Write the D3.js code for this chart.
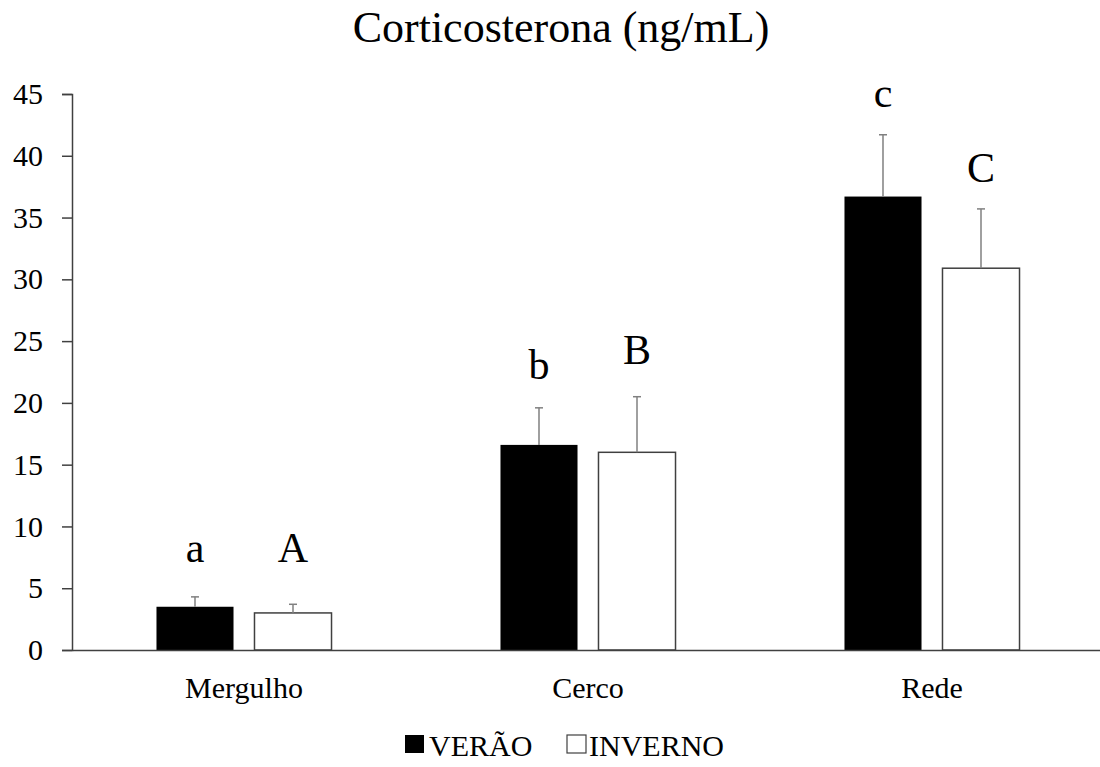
<!DOCTYPE html>
<html>
<head>
<meta charset="utf-8">
<script src="https://cdn.jsdelivr.net/npm/d3@7"></script>
<style>
  body { margin: 0; background: #fff; }
</style>
</head>
<body>
<div id="chart"></div>
<script>
const categories = ['Mergulho', 'Cerco', 'Rede'];
const series = ['VERÃO', 'INVERNO'];
const veraoValues = [3.5, 16.6, 36.7];
const veraoErrors = [0.8, 3.0, 5.0];
const invernoValues = [3.0, 16.0, 30.9];
const invernoErrors = [0.7, 4.5, 4.8];
const veraoLetters = ['a', 'b', 'c'];
const invernoLetters = ['A', 'B', 'C'];
// letter heights in data units (placed by hand in the original)
const veraoLetterY = [7.1, 21.9, 43.95];
const invernoLetterY = [7.1, 23.15, 37.9];
const yTicks = [0, 5, 10, 15, 20, 25, 30, 35, 40, 45];

const width = 1100, height = 767;
const margin = { top: 94, right: -4, bottom: 117, left: 72 };
const serif = "'Liberation Serif', 'Times New Roman', Times, serif";

const rows = [];
categories.forEach((c, i) => {
  rows.push({ cat: c, s: series[0], value: veraoValues[i], err: veraoErrors[i], letter: veraoLetters[i], ly: veraoLetterY[i] });
  rows.push({ cat: c, s: series[1], value: invernoValues[i], err: invernoErrors[i], letter: invernoLetters[i], ly: invernoLetterY[i] });
});

const svg = d3.select('#chart').append('svg')
  .attr('width', width)
  .attr('height', height)
  .attr('font-family', serif);

const x0 = d3.scaleBand()
  .domain(categories)
  .range([margin.left, width - margin.right]);

const x1 = d3.scaleBand()
  .domain(series)
  .range([0, x0.bandwidth()])
  .paddingInner(0.214)
  .paddingOuter(0.862);

const y = d3.scaleLinear()
  .domain([0, 45])
  .range([height - margin.bottom, margin.top]);

const color = { 'VERÃO': '#000', 'INVERNO': '#fff' };

// title
svg.append('text')
  .attr('x', 561)
  .attr('y', 42)
  .attr('text-anchor', 'middle')
  .attr('font-size', 44)
  .text('Corticosterona (ng/mL)');

// bars
const g = svg.append('g');
g.selectAll('rect')
  .data(rows)
  .join('rect')
  .attr('x', d => x0(d.cat) + x1(d.s))
  .attr('y', d => y(d.value))
  .attr('width', x1.bandwidth())
  .attr('height', d => y(0) - y(d.value))
  .attr('fill', d => color[d.s])
  .attr('stroke', d => d.s === 'INVERNO' ? '#404040' : 'none')
  .attr('stroke-width', 1.5);

// error bars (upper only)
const eb = g.selectAll('.err')
  .data(rows)
  .join('g')
  .attr('class', 'err')
  .attr('stroke', '#808080')
  .attr('stroke-width', 1.5);
eb.append('line')
  .attr('x1', d => x0(d.cat) + x1(d.s) + x1.bandwidth() / 2)
  .attr('x2', d => x0(d.cat) + x1(d.s) + x1.bandwidth() / 2)
  .attr('y1', d => y(d.value))
  .attr('y2', d => y(d.value + d.err));
eb.append('line')
  .attr('x1', d => x0(d.cat) + x1(d.s) + x1.bandwidth() / 2 - 4)
  .attr('x2', d => x0(d.cat) + x1(d.s) + x1.bandwidth() / 2 + 4)
  .attr('y1', d => y(d.value + d.err))
  .attr('y2', d => y(d.value + d.err));

// significance letters
g.selectAll('.letter')
  .data(rows)
  .join('text')
  .attr('class', 'letter')
  .attr('x', d => x0(d.cat) + x1(d.s) + x1.bandwidth() / 2)
  .attr('y', d => y(d.ly))
  .attr('text-anchor', 'middle')
  .attr('font-size', 42)
  .text(d => d.letter);

// y axis
const yAxis = svg.append('g')
  .attr('transform', `translate(${margin.left},0)`)
  .call(d3.axisLeft(y).tickValues(yTicks).tickSize(10).tickPadding(19));
yAxis.attr('font-family', serif).attr('font-size', 30);
yAxis.select('.domain').attr('stroke', '#404040').attr('stroke-width', 1.5);
yAxis.selectAll('.tick line').attr('stroke', '#404040').attr('stroke-width', 1.5);
yAxis.selectAll('.tick text').attr('fill', '#000');

// x axis
const xAxis = svg.append('g')
  .attr('transform', `translate(0,${y(0)})`)
  .call(d3.axisBottom(x0).tickSize(0).tickPadding(27));
xAxis.attr('font-family', serif).attr('font-size', 30);
xAxis.select('.domain').attr('stroke', '#404040').attr('stroke-width', 1.5);
xAxis.selectAll('.tick text').attr('fill', '#000');

// legend
const legend = svg.append('g');
const legendItems = [
  { s: series[0], box: 405, tx: 429 },
  { s: series[1], box: 567, tx: 589 }
];
legend.selectAll('rect')
  .data(legendItems)
  .join('rect')
  .attr('x', d => d.box)
  .attr('y', 735)
  .attr('width', 19)
  .attr('height', 18)
  .attr('fill', d => color[d.s])
  .attr('stroke', d => d.s === 'INVERNO' ? '#404040' : 'none')
  .attr('stroke-width', 1.2);
legend.selectAll('text')
  .data(legendItems)
  .join('text')
  .attr('x', d => d.tx)
  .attr('y', 756)
  .attr('font-size', 30)
  .text(d => d.s);
</script>
</body>
</html>
